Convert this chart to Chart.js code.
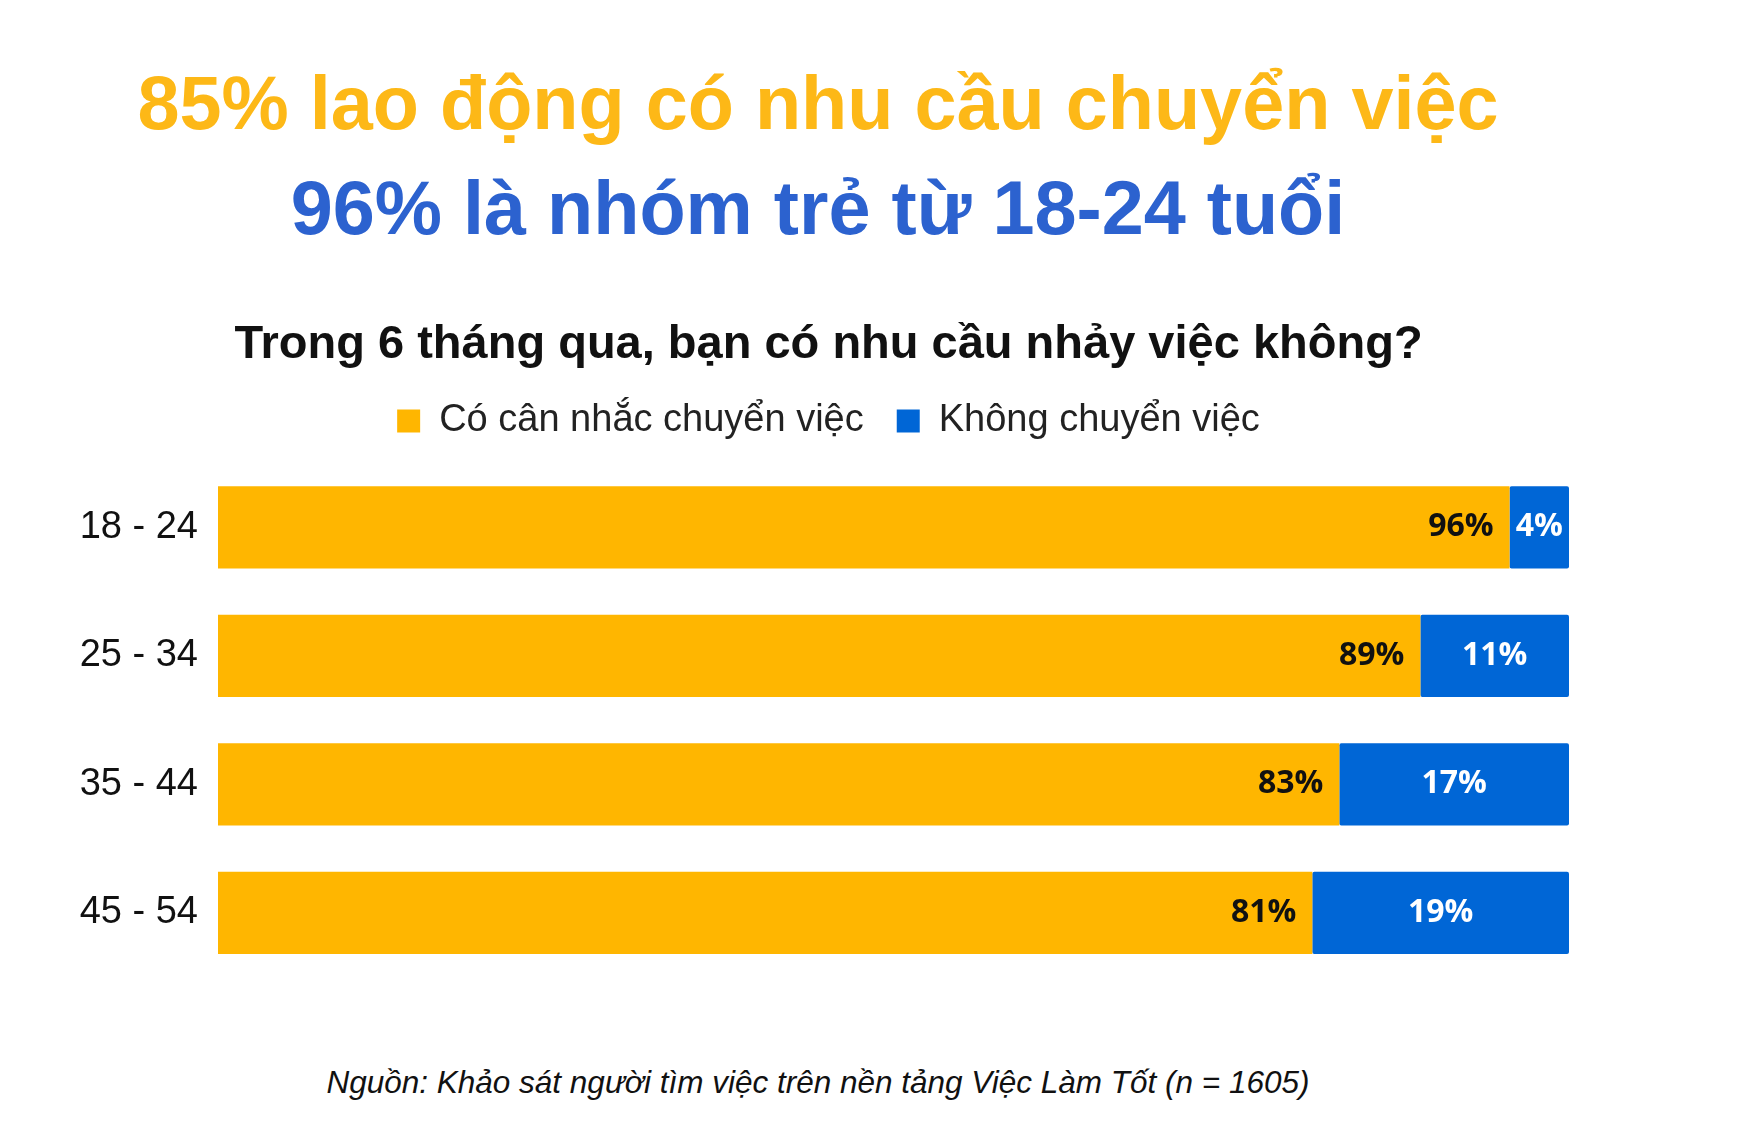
<!DOCTYPE html>
<html>
<head>
<meta charset="utf-8">
<script src="https://cdn.jsdelivr.net/npm/chart.js@4.4.1/dist/chart.umd.min.js"></script>
<style>
  html, body { margin: 0; padding: 0; background: #fff; }
  body { width: 1744px; height: 1146px; position: relative; overflow: hidden; font-family: "Liberation Sans", Arial, sans-serif; }
  .head { position: absolute; left: 0; width: 1636px; text-align: center; font-weight: bold; white-space: nowrap; line-height: 1; }
  #h1 { top: 66px; font-size: 75.6px; color: #FDB817; }
  #h2 { top: 171px; font-size: 75.6px; color: #2C62CF; }
  #src { position: absolute; left: 0; width: 1636px; top: 1064px; text-align: center; font-style: italic; font-size: 31.5px; color: #111; }
  #wrap { position: absolute; left: 0; top: 300px; width: 1656px; height: 712px; }
</style>
</head>
<body>
<div class="head" id="h1">85% lao động có nhu cầu chuyển việc</div>
<div class="head" id="h2">96% là nhóm trẻ từ 18-24 tuổi</div>
<div id="wrap"><canvas id="barChart"></canvas></div>
<div id="src">Nguồn: Khảo sát người tìm việc trên nền tảng Việc Làm Tốt (n = 1605)</div>

<script>
  // data (percent); labels show the rounded value
  const ageGroups = ['18 - 24', '25 - 34', '35 - 44', '45 - 54'];
  const seriesNames = ['Có cân nhắc chuyển việc', 'Không chuyển việc'];
  const considerSwitch = [95.6, 89, 83, 81];
  const noSwitch = [4.4, 11, 17, 19];

  const yellow = '#FFB600';
  const blue = '#0066D6';

  // percentage labels on the bars
  const barLabels = {
    id: 'barLabels',
    afterDatasetsDraw(chart) {
      const ctx = chart.ctx;
      ctx.save();
      ctx.font = 'bold 32px "Open Sans", "Noto Sans", sans-serif';
      ctx.textBaseline = 'middle';
      chart.data.datasets.forEach(function(ds, i) {
        const meta = chart.getDatasetMeta(i);
        meta.data.forEach(function(bar, j) {
          const txt = Math.round(ds.data[j]) + '%';
          if (i === 0) {
            ctx.fillStyle = '#111';
            ctx.textAlign = 'right';
            ctx.fillText(txt, bar.x - 16, bar.y);
          } else {
            ctx.fillStyle = '#fff';
            ctx.textAlign = 'center';
            ctx.fillText(txt, (bar.base + bar.x) / 2, bar.y);
          }
        });
      });
      ctx.restore();
    }
  };

  const ctx = document.getElementById('barChart').getContext('2d');
  new Chart(ctx, {
    type: 'bar',
    data: {
      labels: ageGroups,
      datasets: [
        {
          label: seriesNames[0],
          data: considerSwitch,
          backgroundColor: yellow,
          borderWidth: 0,
          borderRadius: 2,
          borderSkipped: false
        },
        {
          label: seriesNames[1],
          data: noSwitch,
          backgroundColor: blue,
          borderWidth: 0,
          borderRadius: 2,
          borderSkipped: false
        }
      ]
    },
    options: {
      indexAxis: 'y',
      responsive: true,
      maintainAspectRatio: false,
      animation: false,
      datasets: {
        bar: { categoryPercentage: 0.8, barPercentage: 0.8 }
      },
      layout: { padding: { left: 76, right: 75, top: 0, bottom: 0 } },
      scales: {
        x: {
          stacked: true,
          min: 0,
          max: 100,
          position: 'top',
          grid: { display: false },
          border: { display: false },
          ticks: { display: false },
          afterFit: function(axis) { axis.height = 13; }
        },
        y: {
          stacked: true,
          grid: { display: false },
          border: { display: false },
          ticks: {
            color: '#111',
            padding: 12,
            font: { family: '"Liberation Sans", Arial, sans-serif', size: 38 }
          },
          afterFit: function(axis) { axis.width = 142; }
        },
        // empty axis on the right, only keeps some space
        yRight: {
          type: 'category',
          position: 'right',
          grid: { display: false },
          border: { display: false },
          ticks: { display: false },
          afterFit: function(axis) { axis.width = 12; }
        }
      },
      plugins: {
        title: {
          display: true,
          text: 'Trong 6 tháng qua, bạn có nhu cầu nhảy việc không?',
          color: '#111',
          font: { family: '"Liberation Sans", Arial, sans-serif', size: 47, weight: 'bold', lineHeight: 1 },
          padding: { top: 22, bottom: 0 }
        },
        legend: {
          display: true,
          labels: {
            color: '#222',
            boxWidth: 23,
            boxHeight: 23,
            padding: 33,
            font: { family: '"Liberation Sans", Arial, sans-serif', size: 38 }
          }
        },
        tooltip: { enabled: false }
      }
    },
    plugins: [barLabels]
  });
</script>
</body>
</html>
